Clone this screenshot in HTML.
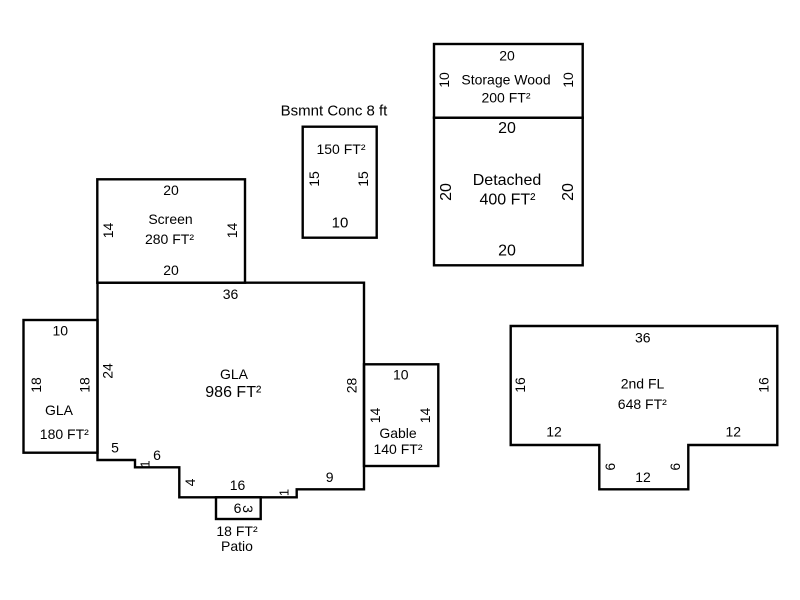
<!DOCTYPE html>
<html>
<head>
<meta charset="utf-8">
<style>
html,body{margin:0;padding:0;background:#fff;}
svg{display:block;}
text{font-family:"Liberation Sans",Arial,sans-serif;fill:#000;text-anchor:middle;dominant-baseline:central;font-size:14px;}
.b{font-size:16px;}
</style>
</head>
<body>
<svg width="800" height="600" viewBox="0 0 800 600" xmlns="http://www.w3.org/2000/svg">
<g fill="none" stroke="#000" stroke-width="2.4" stroke-linejoin="miter">
  <polygon points="97.5,282.7 364,282.7 364,489.3 296.7,489.3 296.7,497.3 179.3,497.3 179.3,467.3 135,467.3 135,460 97.5,460"/>
  <rect x="23.5" y="320" width="74" height="132.7"/>
  <rect x="97.3" y="179.3" width="147.7" height="103.4"/>
  <rect x="302.7" y="126.7" width="74" height="111"/>
  <rect x="434" y="44" width="148.7" height="73.7"/>
  <rect x="434" y="117.7" width="148.7" height="147.6"/>
  <rect x="364" y="364.3" width="74.3" height="101.7"/>
  <rect x="216" y="497.3" width="44.7" height="21.7"/>
  <polygon points="510.7,326 777.3,326 777.3,445 688.3,445 688.3,489.3 599.3,489.3 599.3,445 510.7,445"/>
</g>

<!-- Bsmnt -->
<text x="334" y="111" style="font-size:15px">Bsmnt Conc 8 ft</text>
<text x="341" y="149">150 FT²</text>
<text x="314" y="179" transform="rotate(-90 314 179)">15</text>
<text x="363" y="179" transform="rotate(-90 363 179)">15</text>
<text x="340" y="223" style="font-size:15px">10</text>

<!-- Screen -->
<text x="171" y="190">20</text>
<text x="170.5" y="219">Screen</text>
<text x="169.5" y="239">280 FT²</text>
<text x="108" y="230.5" transform="rotate(-90 108 230.5)">14</text>
<text x="232" y="230.5" transform="rotate(-90 232 230.5)">14</text>
<text x="171" y="270">20</text>

<!-- Storage -->
<text x="507" y="55.3">20</text>
<text x="506" y="79.3">Storage Wood</text>
<text x="506" y="97.5">200 FT²</text>
<text x="444" y="80" transform="rotate(-90 444 80)">10</text>
<text x="568" y="80" transform="rotate(-90 568 80)">10</text>

<!-- Detached -->
<text class="b" x="507" y="128.7">20</text>
<text class="b" x="507" y="180.3">Detached</text>
<text class="b" x="507.5" y="200">400 FT²</text>
<text class="b" x="446.7" y="192" transform="rotate(-90 446.7 192)">20</text>
<text class="b" x="568.3" y="192" transform="rotate(-90 568.3 192)">20</text>
<text class="b" x="507" y="251">20</text>

<!-- Main GLA -->
<text x="230.5" y="294">36</text>
<text x="234" y="374">GLA</text>
<text class="b" x="233.3" y="392.5">986 FT²</text>
<text x="107.5" y="371" transform="rotate(-90 107.5 371)">24</text>
<text x="351.7" y="385.5" transform="rotate(-90 351.7 385.5)">28</text>
<text x="115" y="447.5">5</text>
<text x="157" y="455">6</text>
<text x="145" y="464" transform="rotate(-90 145 464)" style="font-size:13px">1</text>
<text x="190" y="482.5" transform="rotate(-90 190 482.5)">4</text>
<text x="237.5" y="485">16</text>
<text x="284" y="492.5" transform="rotate(-90 284 492.5)" style="font-size:13px">1</text>
<text x="329.7" y="477">9</text>

<!-- Patio -->
<text x="237.5" y="508">6</text>
<text x="248" y="509" transform="rotate(90 248 509)">3</text>
<text x="237" y="531">18 FT²</text>
<text x="237" y="546">Patio</text>

<!-- Small GLA -->
<text x="60.3" y="330.5">10</text>
<text x="36" y="385" transform="rotate(-90 36 385)">18</text>
<text x="84.3" y="385" transform="rotate(-90 84.3 385)">18</text>
<text x="59" y="410">GLA</text>
<text x="64.3" y="434">180 FT²</text>

<!-- Gable -->
<text x="400.8" y="374.7">10</text>
<text x="375" y="415.5" transform="rotate(-90 375 415.5)">14</text>
<text x="425" y="415.5" transform="rotate(-90 425 415.5)">14</text>
<text x="398" y="433">Gable</text>
<text x="398" y="449">140 FT²</text>

<!-- 2nd FL -->
<text x="642.8" y="337.7">36</text>
<text x="520" y="385" transform="rotate(-90 520 385)">16</text>
<text x="763.3" y="385" transform="rotate(-90 763.3 385)">16</text>
<text x="642.5" y="383.7">2nd FL</text>
<text x="642.3" y="404">648 FT²</text>
<text x="554" y="431.3">12</text>
<text x="733.3" y="431.3">12</text>
<text x="610" y="466.7" transform="rotate(-90 610 466.7)">6</text>
<text x="675" y="466.7" transform="rotate(-90 675 466.7)">6</text>
<text x="643" y="477">12</text>
</svg>
</body>
</html>
